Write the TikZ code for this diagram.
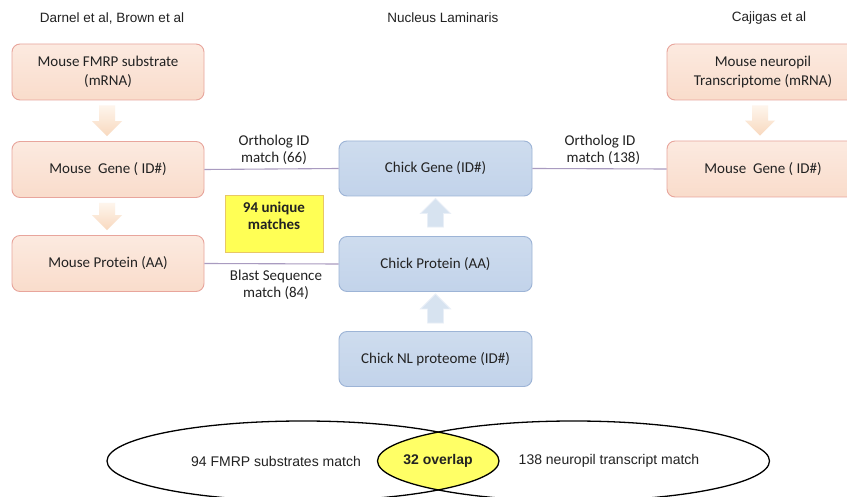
\documentclass[tikz,border=0pt]{standalone}
\usepackage{fontspec}
\setmainfont{Carlito}
\newfontfamily\arialfont{Liberation Sans}
\usetikzlibrary{calc}

\definecolor{peachtop}{HTML}{FCEAE0}
\definecolor{peachbot}{HTML}{F9DCCB}
\definecolor{peachline}{HTML}{E8A59C}
\definecolor{bluetop}{HTML}{CEDCEE}
\definecolor{bluebot}{HTML}{C2D3EA}
\definecolor{blueline}{HTML}{9DB4D6}
\definecolor{arrowlight}{HTML}{FEF5EC}
\definecolor{arrowpeach}{HTML}{F8D9BF}
\definecolor{arrowblue}{HTML}{D7E3F0}
\definecolor{arrowblueline}{HTML}{E9EFF7}
\definecolor{linkline}{HTML}{A99BC0}
\definecolor{notefill}{HTML}{FFFF55}
\definecolor{noteline}{HTML}{E8C766}
\definecolor{overlap}{HTML}{FFFF66}
\definecolor{inktext}{HTML}{222222}

\tikzset{
  mousebox/.style={draw=peachline, line width=0.9pt, rounded corners=8pt,
    top color=peachtop, bottom color=peachbot, text=inktext,
    minimum width=192pt, minimum height=56pt, inner sep=0pt,
    align=center, font=\fontsize{15}{19}\selectfont},
  chickbox/.style={draw=blueline, line width=0.9pt, rounded corners=8pt,
    top color=bluetop, bottom color=bluebot, text=inktext,
    minimum width=193pt, minimum height=55pt, inner sep=0pt,
    align=center, font=\fontsize{15}{19}\selectfont},
  link/.style={draw=linkline, line width=1.1pt},
  linklabel/.style={align=center, inner sep=0pt, text=inktext,
    font=\fontsize{15}{17}\selectfont},
  heading/.style={inner sep=0pt, text=inktext,
    font=\arialfont\fontsize{13.5}{16}\selectfont},
  venntext/.style={inner sep=0pt, text=inktext,
    font=\arialfont\fontsize{14}{16}\selectfont},
  % hollow block arrow from tail point to tip point (vertical)
  blockarrow/.style={to path={
    let \p1=(\tikztostart), \p2=(\tikztotarget), \n1={sign(\y2-\y1)} in
    ({\x1-8pt},\y1) -- ({\x1+8pt},\y1) -- ({\x1+8pt},{\y2-15pt*\n1})
    -- ({\x1+15pt},{\y2-15pt*\n1}) -- (\x1,\y2) -- ({\x1-15pt},{\y2-15pt*\n1})
    -- ({\x1-8pt},{\y2-15pt*\n1}) -- cycle}},
  downarrow/.style={blockarrow, top color=arrowlight, bottom color=arrowpeach},
  uparrow/.style={blockarrow, fill=arrowblue, draw=arrowblueline, line width=0.8pt},
}

\begin{document}
\begin{tikzpicture}[x=1pt, y=-1pt]
  \path[use as bounding box] (0,0) rectangle (847,497);
  \fill[white] (0,0) rectangle (847,497);
  \clip (0,0) rectangle (847,497);

  % column headings
  \node[heading] (hleft) at (112,18) {Darnel et al, Brown et al};
  \node[heading] (hmid) at (443,18) {Nucleus Laminaris};
  \node[heading] (hright) at (769,18) {Cajigas et al};

  % mouse FMRP column
  \node[mousebox] (lg1) at (108,72) {Mouse FMRP substrate\\(mRNA)};
  \node[mousebox] (lg2) at (108,169.5) {Mouse\ \ Gene ( ID\#)};
  \node[mousebox] (lg3) at (108,263.5) {Mouse Protein (AA)};

  % chick column
  \node[chickbox] (cg) at (435.5,168.5) {Chick Gene (ID\#)};
  \node[chickbox] (cp) at (435.5,264) {Chick Protein (AA)};
  \node[chickbox] (cn) at (435.5,359) {Chick NL proteome (ID\#)};

  % mouse neuropil column
  \node[mousebox] (rg1) at (763,72) {Mouse neuropil\\Transcriptome (mRNA)};
  \node[mousebox] (rg2) at (763,169) {Mouse\ \ Gene ( ID\#)};

  % block arrows between boxes
  \path[downarrow] ($(lg1.south)+(-1,5)$) to ($(lg2.north)+(-1,-5)$);
  \path[downarrow] ($(lg2.south)+(-1,5)$) to ($(lg3.north)+(-1,-5)$);
  \path[downarrow] ($(rg1.south)+(-3,5)$) to ($(rg2.north)+(-3,-5)$);
  \path[uparrow] ($(cp.north)+(0,-9)$) to ($(cg.south)+(0,2)$);
  \path[uparrow] ($(cn.north)+(0,-8)$) to ($(cp.south)+(0,2)$);

  % matching links
  \draw[link] (lg2.east) -- (cg.west);
  \draw[link] (lg3.east) -- (cp.west);
  \draw[link] (cg.east) -- (rg2.west);

  \node[linklabel] (l66) at (274,149.5) {Ortholog ID\\match (66)};
  \node[linklabel] (l84) at (276,285) {Blast Sequence\\match (84)};
  \node[linklabel] (l138) at (600,149.5) {Ortholog ID\\\ \ match (138)};

  % summary note, its text set in the upper part of the box
  \node[draw=noteline, fill=notefill, line width=0.6pt, minimum width=98pt,
        minimum height=57pt, inner sep=0pt] (note) at (274,223.5) {};
  \node[align=center, inner sep=0pt, text=inktext,
        font=\bfseries\fontsize{15}{17}\selectfont]
        (notetext) at ($(note.center)+(0,-7.5)$) {94 unique\\matches};

  % Venn diagram of the two match sets
  \begin{scope}
    \clip (303,461) ellipse [x radius=196, y radius=40];
    \fill[overlap] (573.5,461) ellipse [x radius=196, y radius=40];
  \end{scope}
  \draw[line width=1.3pt] (303,461) ellipse [x radius=196, y radius=40];
  \draw[line width=1.3pt] (573.5,461) ellipse [x radius=196, y radius=40];

  \node[venntext] (vleft) at (276,461) {94 FMRP substrates match};
  \node[venntext, font=\arialfont\bfseries\fontsize{14}{16}\selectfont] (vmid) at (438,461) {32 overlap};
  \node[venntext] (vright) at (609,461) {138 neuropil transcript match};
\end{tikzpicture}
\end{document}
